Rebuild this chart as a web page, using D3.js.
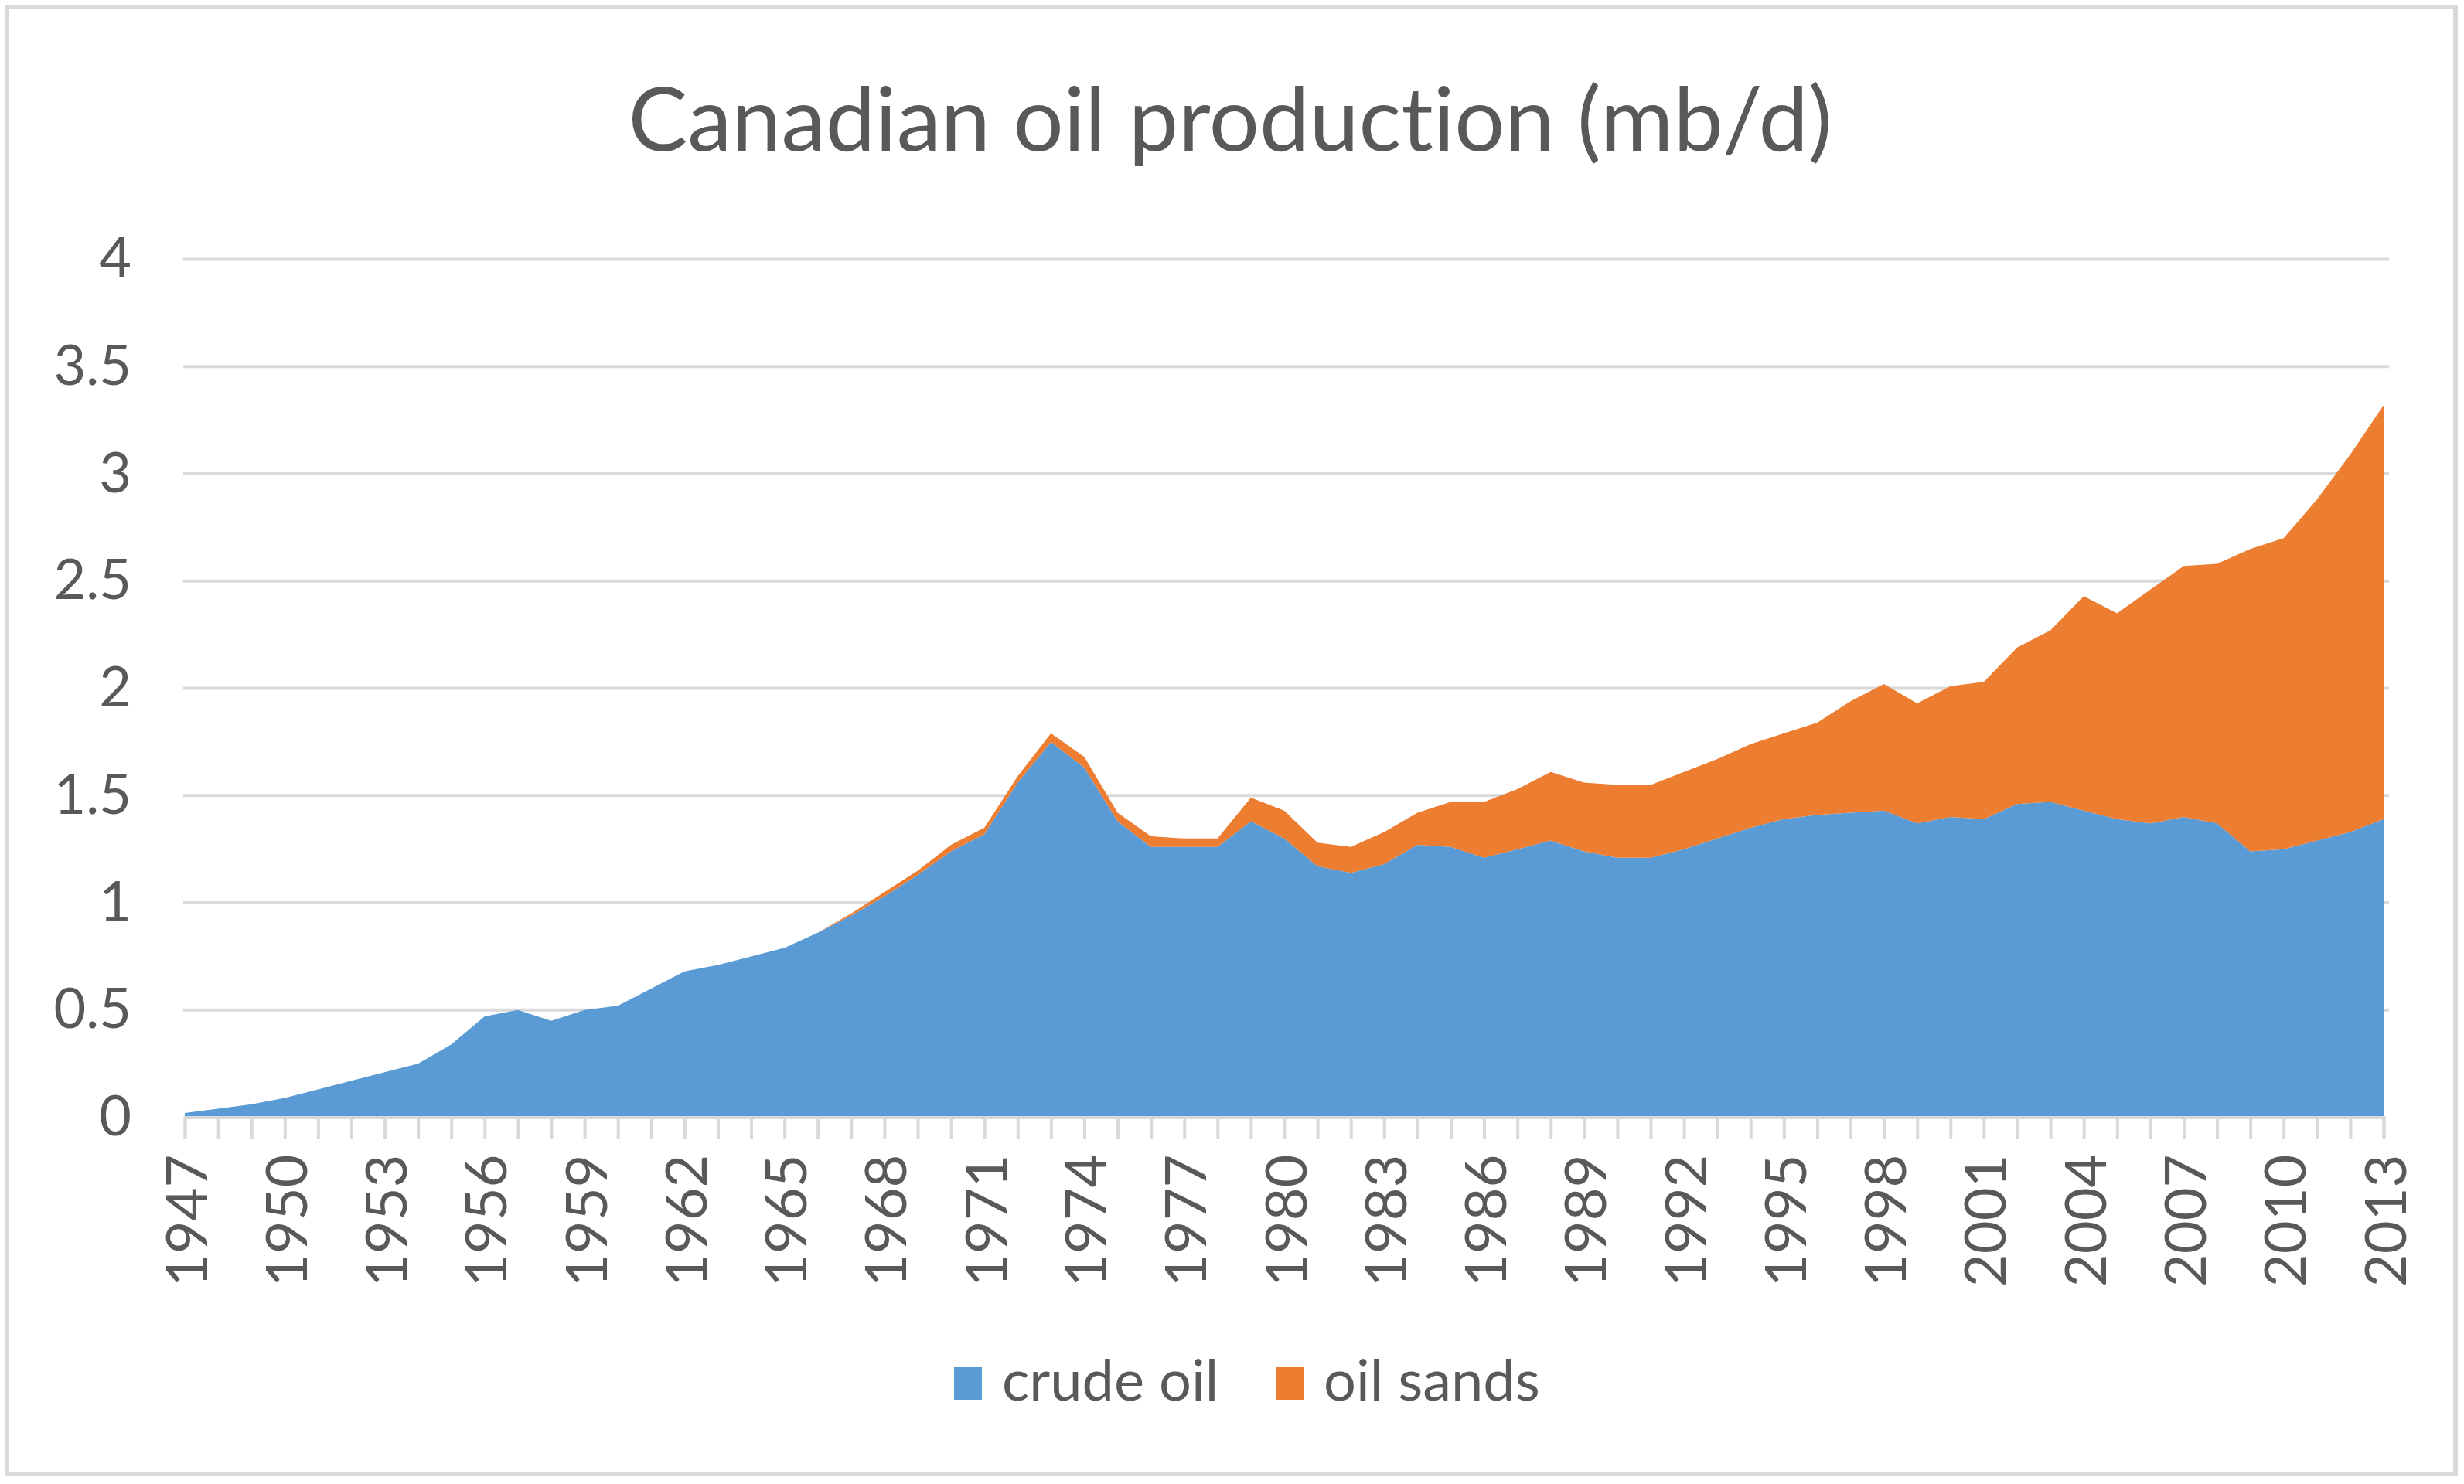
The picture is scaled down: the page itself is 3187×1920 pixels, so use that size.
<!DOCTYPE html>
<html>
<head>
    <title>Canadian oil production</title>
    <script src="https://d3js.org/d3.v7.min.js"></script>
    <style>
        body { margin: 0; background: #fff; }
        text { font-family: Lato, "Open Sans", sans-serif; fill: #595959; font-variant-ligatures: none; }
        .grid line { stroke: #d9d9d9; stroke-width: 4; }
    </style>
</head>
<body>
    <div id="chart"></div>
    <script>
        // years on the category axis
        const years = d3.range(1947, 2014);
        // conventional crude, million barrels per day
        const crudeOil = [
            0.02, 0.04, 0.06, 0.09, 0.13, 0.17, 0.21, 0.25, 0.34, 0.47,
            0.50, 0.45, 0.50, 0.52, 0.60, 0.68, 0.71, 0.75, 0.79, 0.86,
            0.94, 1.03, 1.13, 1.24, 1.32, 1.56, 1.75, 1.63, 1.38, 1.26,
            1.26, 1.26, 1.38, 1.30, 1.17, 1.14, 1.18, 1.27, 1.26, 1.21,
            1.25, 1.29, 1.24, 1.21, 1.21, 1.25, 1.30, 1.35, 1.39, 1.41,
            1.42, 1.43, 1.37, 1.40, 1.39, 1.46, 1.47, 1.43, 1.39, 1.37,
            1.40, 1.37, 1.24, 1.25, 1.29, 1.33, 1.39
        ];
        // oil sands, million barrels per day
        const oilSands = [
            0, 0, 0, 0, 0, 0, 0, 0, 0, 0,
            0, 0, 0, 0, 0, 0, 0, 0, 0, 0,
            0.01, 0.02, 0.02, 0.03, 0.03, 0.03, 0.04, 0.05, 0.04, 0.05,
            0.04, 0.04, 0.11, 0.13, 0.11, 0.12, 0.15, 0.15, 0.21, 0.26,
            0.28, 0.32, 0.32, 0.34, 0.34, 0.36, 0.37, 0.39, 0.40, 0.43,
            0.52, 0.59, 0.56, 0.61, 0.64, 0.73, 0.80, 1.00, 0.96, 1.09,
            1.17, 1.21, 1.41, 1.45, 1.59, 1.76, 1.93
        ];
        const seriesNames = ["crude oil", "oil sands"];
        const yTicks = [0, 0.5, 1, 1.5, 2, 2.5, 3, 3.5, 4];
        const labelYears = years.filter(d => (d - 1947) % 3 === 0);

        const colors = { "crude oil": "#5b9bd5", "oil sands": "#ed7d31" };

        const W = 3187, H = 1920;
        const svg = d3.select("#chart").append("svg")
            .attr("width", W)
            .attr("height", H);

        // outer frame
        svg.append("rect")
            .attr("x", 9).attr("y", 9)
            .attr("width", W - 20).attr("height", H - 22)
            .attr("fill", "#fff")
            .attr("stroke", "#d9d9d9")
            .attr("stroke-width", 6);

        const x = d3.scaleLinear().domain([1947, 2013]).range([239, 3083]);
        const y = d3.scaleLinear().domain([0, 4]).range([1445.5, 335.5]);

        // title
        svg.append("text")
            .attr("x", 1591)
            .attr("y", 195)
            .attr("text-anchor", "middle")
            .attr("font-size", 115)
            .text("Canadian oil production (mb/d)");

        // gridlines
        svg.append("g")
            .attr("class", "grid")
            .selectAll("line")
            .data(yTicks.slice(1))
            .join("line")
            .attr("x1", 237).attr("x2", 3090)
            .attr("y1", d => y(d)).attr("y2", d => y(d));

        // y axis labels
        const yAxis = svg.append("g")
            .attr("transform", "translate(170,0)")
            .call(d3.axisLeft(y).tickValues(yTicks).tickSize(0).tickPadding(0)
                .tickFormat(d3.format("")));
        yAxis.select(".domain").remove();
        yAxis.selectAll("text")
            .attr("font-size", 72)
            .attr("font-family", null)
            .style("fill", "#595959");

        // stacked areas
        const table = years.map((yr, i) => ({
            year: yr, "crude oil": crudeOil[i], "oil sands": oilSands[i]
        }));
        const stacked = d3.stack().keys(seriesNames)(table);
        const area = d3.area()
            .x(d => x(d.data.year))
            .y0(d => y(d[0]))
            .y1(d => y(d[1]));
        svg.append("g")
            .selectAll("path")
            .data(stacked)
            .join("path")
            .attr("fill", d => colors[d.key])
            .attr("d", area);

        // x axis: line, yearly ticks, labels every 3 years
        const xAxis = svg.append("g")
            .attr("transform", `translate(0,${y(0)})`)
            .call(d3.axisBottom(x).tickValues(years).tickSize(28).tickFormat(""));
        xAxis.select(".domain").attr("stroke", "#d9d9d9").attr("stroke-width", 4);
        xAxis.selectAll(".tick line").attr("stroke", "#d9d9d9").attr("stroke-width", 4);

        svg.append("g")
            .selectAll("text")
            .data(labelYears)
            .join("text")
            .attr("transform", d => `translate(${x(d)},${y(0) + 48}) rotate(-90)`)
            .attr("text-anchor", "end")
            .attr("dominant-baseline", "central")
            .attr("font-size", 74)
            .text(d => d);

        // legend
        const legendItems = [
            { key: "crude oil", sx: 1234, tx: 1296 },
            { key: "oil sands", sx: 1651, tx: 1712 }
        ];
        const legend = svg.append("g");
        legend.selectAll("rect")
            .data(legendItems)
            .join("rect")
            .attr("x", d => d.sx).attr("y", 1769)
            .attr("width", 36).attr("height", 42)
            .attr("fill", d => colors[d.key]);
        legend.selectAll("text")
            .data(legendItems)
            .join("text")
            .attr("x", d => d.tx).attr("y", 1812)
            .attr("font-size", 74)
            .text(d => d.key);
    </script>
</body>
</html>
